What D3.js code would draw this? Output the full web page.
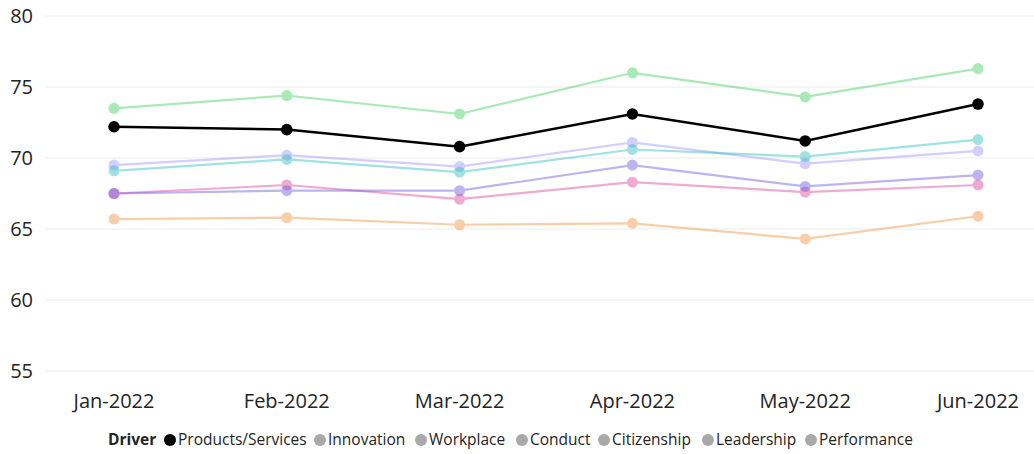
<!DOCTYPE html>
<html>
<head>
<meta charset="utf-8">
<script src="https://cdn.jsdelivr.net/npm/d3@7"></script>
<style>
  body { margin: 0; background: #fff; }
  svg { font-family: "Open Sans", "Noto Sans", sans-serif; }
</style>
</head>
<body>
<div id="chart"></div>
<script>
// months on the x axis
const months = ["Jan-2022", "Feb-2022", "Mar-2022", "Apr-2022", "May-2022", "Jun-2022"];
const drivers = ["Products/Services", "Innovation", "Workplace", "Conduct", "Citizenship", "Leadership", "Performance"];
const yTicks = [55, 60, 65, 70, 75, 80];

// one array per driver
const productsServices = [72.2, 72.0, 70.8, 73.1, 71.2, 73.8];
const innovation       = [73.5, 74.4, 73.1, 76.0, 74.3, 76.3];
const workplace        = [69.1, 69.9, 69.0, 70.6, 70.1, 71.3];
const conduct          = [69.5, 70.2, 69.4, 71.1, 69.6, 70.5];
const citizenship      = [67.5, 67.7, 67.7, 69.5, 68.0, 68.8];
const leadership       = [67.5, 68.1, 67.1, 68.3, 67.6, 68.1];
const performance      = [65.7, 65.8, 65.3, 65.4, 64.3, 65.9];

const seriesValues = [productsServices, innovation, workplace, conduct, citizenship, leadership, performance];
const colors = ["#000000", "#3fd060", "#2ec0c0", "#9c95ff", "#6a5ae0", "#e0459a", "#f09440"];
const opac   = [1, 0.45, 0.45, 0.45, 0.45, 0.45, 0.45];

const width = 1034, height = 454;
const margin = {top: 16, right: 56, bottom: 83, left: 45};

const svg = d3.select("#chart").append("svg")
    .attr("width", width)
    .attr("height", height);

const x = d3.scalePoint()
    .domain(months)
    .range([114, 978]);

const y = d3.scaleLinear()
    .domain([55, 80])
    .range([height - margin.bottom, margin.top]);

// grid lines
svg.append("g")
  .selectAll("line")
  .data(yTicks)
  .join("line")
    .attr("x1", margin.left)
    .attr("x2", width)
    .attr("y1", d => y(d))
    .attr("y2", d => y(d))
    .attr("stroke", "#ebebeb")
    .attr("stroke-width", 1);

// y labels
svg.append("g")
  .selectAll("text")
  .data(yTicks)
  .join("text")
    .attr("x", 33)
    .attr("y", d => y(d))
    .attr("dy", "0.35em")
    .attr("text-anchor", "end")
    .attr("fill", "#252423")
    .style("font-size", "20px")
    .text(d => d);

// x labels
svg.append("g")
  .selectAll("text")
  .data(months)
  .join("text")
    .attr("x", d => x(d))
    .attr("y", 408)
    .attr("text-anchor", "middle")
    .attr("fill", "#252423")
    .style("font-size", "20px")
    .text(d => d);

const line = d3.line()
    .x((d, i) => x(months[i]))
    .y(d => y(d));

// draw the dimmed series first, black on top
const order = [6, 5, 4, 3, 2, 1, 0];
order.forEach(function(k) {
  const g = svg.append("g").attr("opacity", opac[k]);
  g.append("path")
    .datum(seriesValues[k])
    .attr("d", line)
    .attr("fill", "none")
    .attr("stroke", colors[k])
    .attr("stroke-width", k === 0 ? 2.5 : 2.2);
  g.selectAll("circle")
    .data(seriesValues[k])
    .join("circle")
      .attr("cx", (d, i) => x(months[i]))
      .attr("cy", d => y(d))
      .attr("r", k === 0 ? 5.8 : 5.5)
      .attr("fill", colors[k]);
});

// legend
const legend = svg.append("g").attr("transform", "translate(0,440)");
legend.append("text")
  .attr("x", 108)
  .attr("dy", "0.35em")
  .attr("fill", "#252423")
  .style("font-size", "15.5px")
  .style("font-weight", "bold")
  .text("Driver");

const legX = [170, 320, 421, 522, 604, 708, 811];
drivers.forEach(function(name, i) {
  legend.append("circle")
    .attr("cx", legX[i])
    .attr("cy", 0)
    .attr("r", 6)
    .attr("fill", i === 0 ? "#000" : "#a9a9a9");
  legend.append("text")
    .attr("x", legX[i] + 8)
    .attr("dy", "0.35em")
    .attr("fill", "#252423")
    .style("font-size", "15.5px")
    .text(name);
});
</script>
</body>
</html>
